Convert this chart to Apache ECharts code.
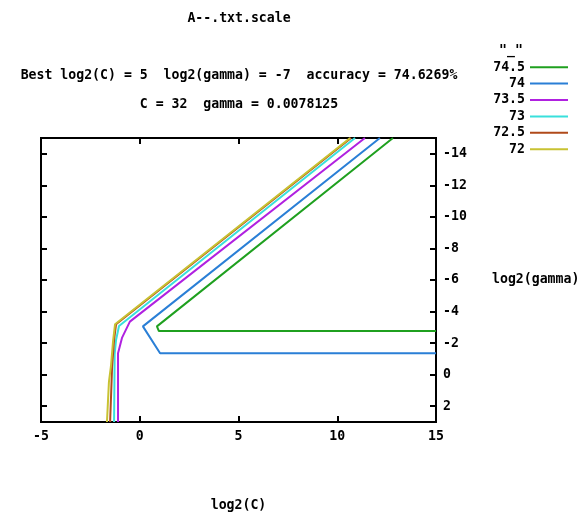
<!DOCTYPE html>
<html>
<head>
<meta charset="utf-8">
<script src="https://cdn.jsdelivr.net/npm/echarts@6/dist/echarts.min.js"></script>
<style>
  html, body { margin: 0; padding: 0; background: #fff; }
  #main { width: 588px; height: 517px; }
</style>
</head>
<body>
<div id="main"></div>
<script>
  // contour levels (legend order) and their paths as [log2(C), log2(gamma)]
  var levels = ['74.5', '74', '73.5', '73', '72.5', '72'];
  var c745 = [[12.82, -15], [0.87, -3.06], [0.97, -2.76], [15, -2.76]];
  var c74 = [[12.16, -15], [0.16, -3.06], [1.03, -1.36], [15, -1.36]];
  var c735 = [[11.4, -15], [-0.5, -3.36], [-0.9, -2.33], [-1.1, -1.36], [-1.1, 3]];
  var c73 = [[10.9, -15], [-1.05, -3.08], [-1.2, -2.2], [-1.27, -1.3], [-1.3, 3]];
  var c725 = [[10.7, -15], [-1.2, -3.2], [-1.3, -2.2], [-1.4, -0.5], [-1.5, 3]];
  var c72 = [[10.65, -15], [-1.25, -3.2], [-1.35, -2.15], [-1.46, -0.52], [-1.56, 0.45], [-1.66, 3]];
  var paths = [c745, c74, c735, c73, c725, c72];
  var colors = ['#1fa01f', '#2a7fd6', '#b021e0', '#38e0dc', '#b04a1a', '#c8c232'];
  var yTicks = [-14, -12, -10, -8, -6, -4, -2, 0, 2];

  var font = 'DejaVu Sans Mono';
  var txt = { fontFamily: font, fontWeight: 'bold', fontSize: 13.2, color: '#000' };

  var chart = echarts.init(document.getElementById('main'));

  var series = levels.map(function (name, i) {
    return {
      name: name,
      type: 'line',
      data: paths[i],
      showSymbol: false,
      symbol: 'none',
      color: colors[i],
      lineStyle: { width: 2 },
      animation: false
    };
  });

  var tick = { inside: true, length: 6, lineStyle: { color: '#000', width: 2 } };

  chart.setOption({
    animation: false,
    title: [
      { text: 'A--.txt.scale', left: 239, top: 12, padding: 0, textAlign: 'center', textStyle: txt },
      { text: 'Best log2(C) = 5  log2(gamma) = -7  accuracy = 74.6269%', left: 239, top: 69, padding: 0, textAlign: 'center', textStyle: txt },
      { text: 'C = 32  gamma = 0.0078125', left: 239, top: 98, padding: 0, textAlign: 'center', textStyle: txt },
      { text: '"_"', left: 511, top: 44, padding: 0, textAlign: 'center', textStyle: txt }
    ],
    legend: {
      data: levels,
      orient: 'vertical',
      right: 15,
      top: 54,
      align: 'right',
      icon: 'rect',
      itemWidth: 38,
      itemHeight: 2,
      itemGap: 0,
      selectedMode: false,
      formatter: '{a|{name}}',
      textStyle: {
        lineHeight: 16.4,
        rich: { a: Object.assign({}, txt, { width: 36, height: 16.4, lineHeight: 16.4, align: 'right' }) }
      }
    },
    grid: {
      left: 41, right: 152, top: 138, bottom: 82,
      show: true, borderColor: '#000', borderWidth: 2
    },
    xAxis: [
      {
        type: 'value', min: -5, max: 15, interval: 5,
        name: 'log2(C)', nameLocation: 'middle', nameGap: 77, nameTextStyle: txt,
        axisLine: { show: false, onZero: false },
        axisTick: tick,
        axisLabel: Object.assign({ margin: 8 }, txt),
        splitLine: { show: false }
      },
      {
        type: 'value', min: -5, max: 15, interval: 5, position: 'top',
        axisLine: { show: false, onZero: false },
        axisTick: tick,
        axisLabel: { show: false },
        splitLine: { show: false }
      }
    ],
    yAxis: [
      {
        type: 'value', min: -15, max: 3, inverse: true, position: 'right',
        name: 'log2(gamma)', nameLocation: 'middle', nameGap: 56, nameRotate: 0,
        nameTextStyle: Object.assign({ align: 'left' }, txt),
        axisLine: { show: false, onZero: false },
        axisTick: Object.assign({ customValues: yTicks }, tick),
        axisLabel: Object.assign({ margin: 7, customValues: yTicks }, txt),
        splitLine: { show: false }
      },
      {
        type: 'value', min: -15, max: 3, inverse: true, position: 'left',
        axisLine: { show: false, onZero: false },
        axisTick: Object.assign({ customValues: yTicks }, tick),
        axisLabel: { show: false },
        splitLine: { show: false }
      }
    ],
    series: series
  });
</script>
</body>
</html>
